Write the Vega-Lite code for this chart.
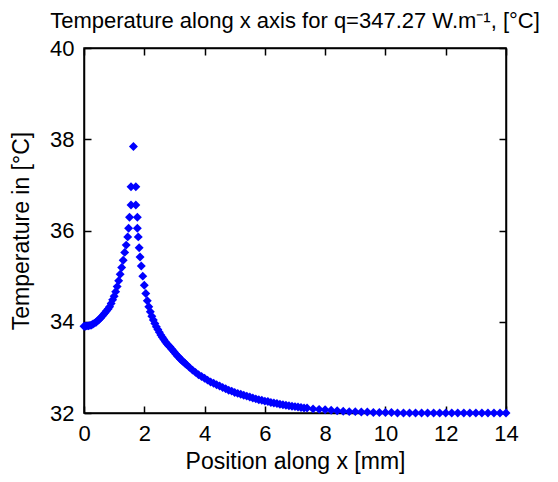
{
  "$schema": "https://vega.github.io/schema/vega-lite/v6.json",
  "autosize": {"type": "none"},
  "padding": {"left": 84, "top": 48, "right": 52, "bottom": 69},
  "width": 422,
  "height": 365,
  "background": "white",
  "view": {"stroke": "black", "strokeWidth": 1.5},
  "title": {
    "text": "Temperature along x axis for q=347.27 W.m⁻¹, [°C]",
    "font": "Liberation Sans",
    "fontSize": 22,
    "fontWeight": "normal",
    "color": "black",
    "offset": 4
  },
  "data": {
    "values": [
      {"x": 0.00, "t": 33.90}, {"x": 0.05, "t": 33.90}, {"x": 0.10, "t": 33.91}, {"x": 0.15, "t": 33.91},
      {"x": 0.20, "t": 33.92}, {"x": 0.25, "t": 33.93}, {"x": 0.30, "t": 33.95}, {"x": 0.35, "t": 33.97},
      {"x": 0.40, "t": 33.99}, {"x": 0.45, "t": 34.02}, {"x": 0.50, "t": 34.05}, {"x": 0.55, "t": 34.08},
      {"x": 0.60, "t": 34.12}, {"x": 0.65, "t": 34.16}, {"x": 0.70, "t": 34.20}, {"x": 0.75, "t": 34.24},
      {"x": 0.80, "t": 34.28}, {"x": 0.85, "t": 34.33}, {"x": 0.90, "t": 34.40}, {"x": 0.95, "t": 34.48},
      {"x": 1.00, "t": 34.56}, {"x": 1.05, "t": 34.66}, {"x": 1.10, "t": 34.77}, {"x": 1.15, "t": 34.90},
      {"x": 1.20, "t": 35.04}, {"x": 1.25, "t": 35.19}, {"x": 1.30, "t": 35.35}, {"x": 1.35, "t": 35.52},
      {"x": 1.40, "t": 35.68}, {"x": 1.45, "t": 35.86}, {"x": 1.48, "t": 36.05}, {"x": 1.51, "t": 36.29},
      {"x": 1.56, "t": 36.56}, {"x": 1.56, "t": 36.96}, {"x": 1.64, "t": 37.84}, {"x": 1.72, "t": 36.96},
      {"x": 1.72, "t": 36.56}, {"x": 1.77, "t": 36.29}, {"x": 1.77, "t": 36.05}, {"x": 1.80, "t": 35.86},
      {"x": 1.83, "t": 35.62}, {"x": 1.86, "t": 35.42}, {"x": 1.90, "t": 35.22}, {"x": 1.95, "t": 35.00},
      {"x": 2.00, "t": 34.80}, {"x": 2.05, "t": 34.62}, {"x": 2.10, "t": 34.46}, {"x": 2.15, "t": 34.33},
      {"x": 2.20, "t": 34.22}, {"x": 2.25, "t": 34.12}, {"x": 2.30, "t": 34.04}, {"x": 2.35, "t": 33.96},
      {"x": 2.40, "t": 33.89}, {"x": 2.45, "t": 33.83}, {"x": 2.50, "t": 33.77}, {"x": 2.55, "t": 33.71},
      {"x": 2.60, "t": 33.66}, {"x": 2.65, "t": 33.61}, {"x": 2.70, "t": 33.56}, {"x": 2.75, "t": 33.52},
      {"x": 2.80, "t": 33.48}, {"x": 2.85, "t": 33.45}, {"x": 2.90, "t": 33.41}, {"x": 2.95, "t": 33.37},
      {"x": 3.00, "t": 33.33}, {"x": 3.05, "t": 33.29}, {"x": 3.10, "t": 33.25}, {"x": 3.15, "t": 33.22},
      {"x": 3.20, "t": 33.18}, {"x": 3.25, "t": 33.15}, {"x": 3.30, "t": 33.12}, {"x": 3.35, "t": 33.09},
      {"x": 3.40, "t": 33.06}, {"x": 3.50, "t": 33.00}, {"x": 3.60, "t": 32.94}, {"x": 3.70, "t": 32.89},
      {"x": 3.80, "t": 32.84}, {"x": 3.90, "t": 32.80}, {"x": 4.00, "t": 32.76}, {"x": 4.10, "t": 32.72},
      {"x": 4.20, "t": 32.68}, {"x": 4.30, "t": 32.65}, {"x": 4.40, "t": 32.62}, {"x": 4.50, "t": 32.59},
      {"x": 4.60, "t": 32.56}, {"x": 4.70, "t": 32.53}, {"x": 4.80, "t": 32.50}, {"x": 4.90, "t": 32.48},
      {"x": 5.00, "t": 32.45}, {"x": 5.10, "t": 32.43}, {"x": 5.20, "t": 32.41}, {"x": 5.30, "t": 32.39},
      {"x": 5.40, "t": 32.37}, {"x": 5.50, "t": 32.35}, {"x": 5.60, "t": 32.33}, {"x": 5.70, "t": 32.31},
      {"x": 5.80, "t": 32.29}, {"x": 5.90, "t": 32.28}, {"x": 6.00, "t": 32.26}, {"x": 6.10, "t": 32.25},
      {"x": 6.20, "t": 32.23}, {"x": 6.30, "t": 32.22}, {"x": 6.40, "t": 32.21}, {"x": 6.50, "t": 32.19},
      {"x": 6.60, "t": 32.18}, {"x": 6.70, "t": 32.17}, {"x": 6.80, "t": 32.16}, {"x": 6.90, "t": 32.15},
      {"x": 7.00, "t": 32.14}, {"x": 7.10, "t": 32.13}, {"x": 7.20, "t": 32.12}, {"x": 7.30, "t": 32.11},
      {"x": 7.40, "t": 32.11}, {"x": 7.60, "t": 32.09}, {"x": 7.80, "t": 32.08}, {"x": 8.00, "t": 32.07},
      {"x": 8.20, "t": 32.06}, {"x": 8.40, "t": 32.05}, {"x": 8.60, "t": 32.04}, {"x": 8.80, "t": 32.03},
      {"x": 9.00, "t": 32.03}, {"x": 9.20, "t": 32.02}, {"x": 9.40, "t": 32.02}, {"x": 9.60, "t": 32.01},
      {"x": 9.80, "t": 32.01}, {"x": 10.00, "t": 32.01}, {"x": 10.20, "t": 32.01}, {"x": 10.40, "t": 32.00},
      {"x": 10.60, "t": 32.00}, {"x": 10.80, "t": 32.00}, {"x": 11.00, "t": 32.00}, {"x": 11.20, "t": 32.00},
      {"x": 11.40, "t": 32.00}, {"x": 11.60, "t": 32.00}, {"x": 11.80, "t": 32.00}, {"x": 12.00, "t": 32.00},
      {"x": 12.20, "t": 32.00}, {"x": 12.40, "t": 32.00}, {"x": 12.60, "t": 32.00}, {"x": 12.80, "t": 32.00},
      {"x": 13.00, "t": 32.00}, {"x": 13.20, "t": 32.00}, {"x": 13.40, "t": 32.00}, {"x": 13.60, "t": 32.00},
      {"x": 13.80, "t": 32.00}, {"x": 14.00, "t": 32.00}
    ]
  },
  "layer": [
    {
      "mark": {"type": "point", "shape": "diamond", "filled": true, "color": "#0000ff", "opacity": 1, "size": 80},
      "encoding": {
        "x": {"field": "x", "type": "quantitative",
              "scale": {"domain": [0, 14], "nice": false, "zero": false},
              "axis": {"orient": "bottom", "title": "Position along x [mm]", "values": [0, 2, 4, 6, 8, 10, 12, 14],
                       "grid": false, "ticks": true, "tickSize": -7, "tickWidth": 1.5, "tickColor": "black",
                       "domainColor": "black", "domainWidth": 1.5,
                       "labelFont": "Liberation Sans", "labelFontSize": 22, "labelColor": "black",
                       "titleFont": "Liberation Sans", "titleFontSize": 23, "titleFontWeight": "normal", "titleColor": "black",
                       "labelPadding": 17, "titlePadding": 6, "labelFlush": false}},
        "y": {"field": "t", "type": "quantitative",
              "scale": {"domain": [32, 40], "nice": false, "zero": false},
              "axis": {"orient": "left", "title": "Temperature in [°C]", "values": [32, 34, 36, 38, 40],
                       "grid": false, "ticks": true, "tickSize": -7, "tickWidth": 1.5, "tickColor": "black",
                       "domainColor": "black", "domainWidth": 1.5,
                       "labelFont": "Liberation Sans", "labelFontSize": 22, "labelColor": "black",
                       "titleFont": "Liberation Sans", "titleFontSize": 23, "titleFontWeight": "normal", "titleColor": "black",
                       "labelPadding": 17, "titlePadding": 16, "labelFlush": false}}
      }
    },
    {
      "transform": [{"filter": "datum.x >= 14"}],
      "mark": {"type": "point", "shape": "diamond", "filled": true, "color": "#0000ff", "opacity": 0, "size": 1},
      "encoding": {
        "x": {"field": "x", "type": "quantitative",
              "axis": {"orient": "top", "title": null, "labels": false, "grid": false,
                       "domainColor": "black", "domainWidth": 1.5,
                       "values": [0, 2, 4, 6, 8, 10, 12, 14], "ticks": true, "tickSize": -7, "tickWidth": 1.5, "tickColor": "black"}},
        "y": {"field": "t", "type": "quantitative",
              "axis": {"orient": "right", "title": null, "labels": false, "grid": false,
                       "domainColor": "black", "domainWidth": 1.5,
                       "values": [32, 34, 36, 38, 40], "ticks": true, "tickSize": -7, "tickWidth": 1.5, "tickColor": "black"}}
      }
    }
  ],
  "resolve": {"axis": {"x": "independent", "y": "independent"}}
}
